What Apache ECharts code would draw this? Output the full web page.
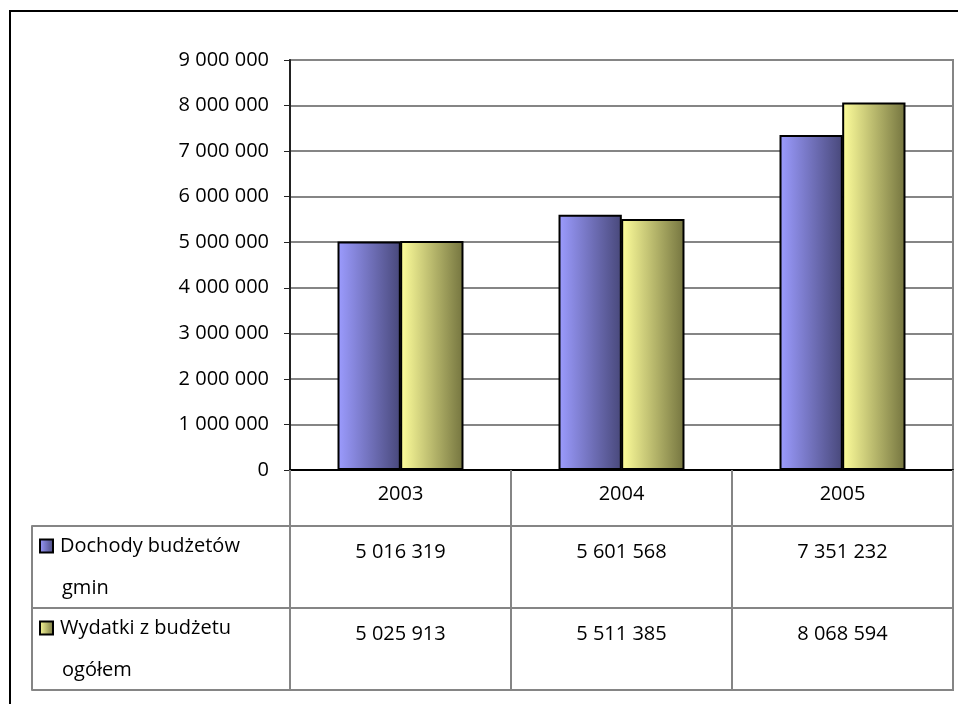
<!DOCTYPE html>
<html>
<head>
<meta charset="utf-8">
<script src="https://cdn.jsdelivr.net/npm/echarts@6/dist/echarts.min.js"></script>
<style>
  html, body { margin: 0; padding: 0; background: #fff; overflow: hidden; }
  #frame { position: absolute; left: 9px; top: 10px; width: 1100px; height: 1100px; border: 2px solid #000; }
  #chart { position: absolute; left: 0; top: 0; width: 958px; height: 704px; }
</style>
</head>
<body>
<div id="frame"></div>
<div id="chart"></div>
<script>
// ---- data ----
const years = ['2003', '2004', '2005'];
const seriesNames = ['Dochody budżetów\ngmin', 'Wydatki z budżetu\nogółem'];
const dochody = [5016319, 5601568, 7351232];
const wydatki = [5025913, 5511385, 8068594];
const yMin = 0;
const yMax = 9000000;
const yStep = 1000000;

// ---- helpers ----
const FONT = 'Open Sans';
const FS = 20;
function fmt(n) { return String(n).replace(/\B(?=(\d{3})+(?!\d))/g, ' '); }
function grad(c0, c1) {
  return new echarts.graphic.LinearGradient(0, 0, 1, 0, [
    { offset: 0, color: c0 }, { offset: 1, color: c1 }
  ]);
}
const blueC = ['#9c9cff', '#48487a'];
const yellC = ['#ffff9c', '#74743f'];
const gridGray = '#858585';

const tableRows = [dochody, wydatki];
const cellData = [];
tableRows.forEach((arr, r) => arr.forEach((v, c) => cellData.push([c, r, v])));

const markerStyles = [blueC, yellC].map(c => ({
  width: 11, height: 11,
  backgroundColor: { type: 'linear', x: 0, y: 0, x2: 1, y2: 0,
    colorStops: [{ offset: 0, color: c[0] }, { offset: 1, color: c[1] }] },
  borderColor: '#000', borderWidth: 2
}));

const chart = echarts.init(document.getElementById('chart'), null, { renderer: 'canvas' });
chart.setOption({
  animation: false,
  backgroundColor: 'transparent',
  textStyle: { fontFamily: FONT, fontSize: FS, color: '#000' },
  grid: [
    { left: 290, right: 5, top: 60, bottom: 234, show: true, borderColor: gridGray, borderWidth: 2, backgroundColor: 'transparent' },
    { left: 290, right: 5, top: 526, bottom: 14, show: true, borderColor: gridGray, borderWidth: 2, backgroundColor: 'transparent' }
  ],
  xAxis: [
    {
      type: 'category', gridIndex: 0, data: years,
      axisLine: { show: true, lineStyle: { color: '#000', width: 2 } },
      axisTick: { show: true, interval: 0, length: 56, lineStyle: { color: gridGray, width: 2 } },
      axisLabel: { show: true, margin: 14, fontFamily: FONT, fontSize: FS, color: '#000' },
      splitLine: { show: false }
    },
    {
      type: 'category', gridIndex: 1, data: years,
      axisLine: { show: false },
      axisTick: { show: false },
      axisLabel: { show: false },
      splitLine: { show: true, interval: 0, lineStyle: { color: gridGray, width: 2 } }
    }
  ],
  yAxis: [
    {
      type: 'value', gridIndex: 0, min: yMin, max: yMax, interval: yStep,
      axisLine: { show: true, lineStyle: { color: '#222', width: 2 } },
      axisTick: { show: true, length: 6, lineStyle: { color: '#222', width: 1 } },
      axisLabel: { margin: 21, formatter: v => fmt(v), fontFamily: FONT, fontSize: FS, color: '#000' },
      splitLine: { show: true, lineStyle: { color: gridGray, width: 2 } }
    },
    {
      type: 'category', gridIndex: 1, data: seriesNames, inverse: true,
      axisLine: { show: true, lineStyle: { color: gridGray, width: 2 } },
      axisTick: { show: true, interval: 0, length: 258, lineStyle: { color: gridGray, width: 2 } },
      axisLabel: {
        show: true, margin: 249, align: 'left', interval: 0,
        formatter: (val, idx) => {
          const parts = val.split('\n');
          return '{m' + idx + '|}{t|' + parts[0] + '}\n{t2|' + parts[1] + '}';
        },
        rich: {
          m0: markerStyles[0],
          m1: markerStyles[1],
          t: { fontFamily: FONT, fontSize: FS, color: '#000', lineHeight: 42, padding: [0, 0, 0, 8] },
          t2: { fontFamily: FONT, fontSize: FS, color: '#000', lineHeight: 42, padding: [0, 0, 0, 21] }
        }
      },
      splitLine: { show: true, interval: 0, lineStyle: { color: gridGray, width: 2 } }
    },
    {
      type: 'category', gridIndex: 1, data: seriesNames, inverse: true,
      position: 'left', offset: 258,
      axisLine: { show: true, lineStyle: { color: gridGray, width: 2 } },
      axisTick: { show: false }, axisLabel: { show: false }, splitLine: { show: false }
    }
  ],
  series: [
    {
      name: seriesNames[0].replace('\n', ' '), type: 'bar', xAxisIndex: 0, yAxisIndex: 0,
      data: dochody, barGap: '-1%', barCategoryGap: '43%',
      itemStyle: { color: grad(blueC[0], blueC[1]), borderColor: '#000', borderWidth: 2 }
    },
    {
      name: seriesNames[1].replace('\n', ' '), type: 'bar', xAxisIndex: 0, yAxisIndex: 0,
      data: wydatki, barGap: '-1%', barCategoryGap: '43%',
      itemStyle: { color: grad(yellC[0], yellC[1]), borderColor: '#000', borderWidth: 2 }
    },
    {
      type: 'scatter', xAxisIndex: 1, yAxisIndex: 1, data: cellData,
      symbolSize: 0, silent: true,
      itemStyle: { opacity: 1, color: 'transparent' },
      label: {
        show: true, position: 'inside', offset: [0, -15],
        formatter: p => fmt(p.value[2]),
        fontFamily: FONT, fontSize: FS, color: '#000', opacity: 1
      }
    }
  ]
});
</script>
</body>
</html>
